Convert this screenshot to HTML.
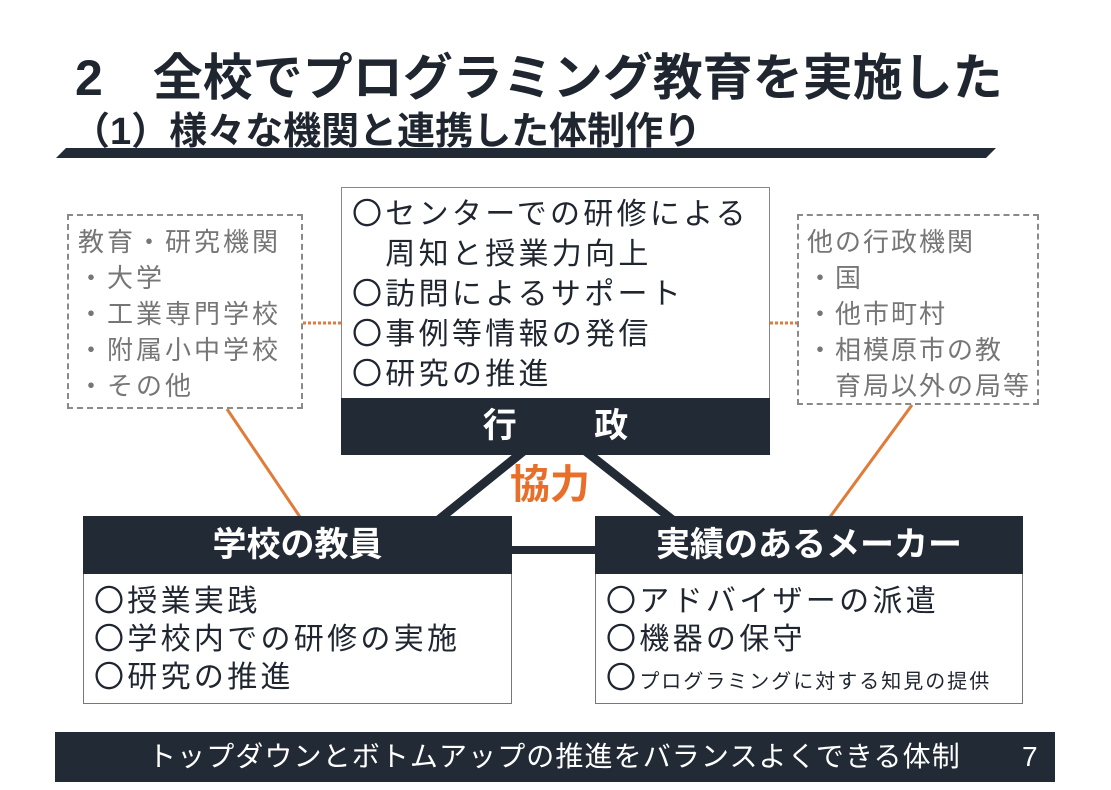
<!DOCTYPE html>
<html><head><meta charset="utf-8"><style>
*{margin:0;padding:0;box-sizing:border-box}
body{width:1111px;height:790px;background:#fff;position:relative;overflow:hidden;font-family:"Liberation Sans","Noto Sans CJK JP",sans-serif;color:#1f2630}
.a{position:absolute;white-space:nowrap}
.dk{background:#222a35}
.t{font-weight:bold;color:#1f2630}
.lines div{height:40px;line-height:40px}
.g{color:#767676;font-size:26px;letter-spacing:3px}
.g div{height:36px;line-height:36px}
</style></head><body>
<div class="a t" style="left:75px;top:48px;font-size:50px;line-height:60px">2　全校でプログラミング教育を実施した</div>
<div class="a t" style="left:72px;top:110px;font-size:38px;line-height:44px">（1）様々な機関と連携した体制作り</div>
<svg class="a" style="left:0;top:0" width="1111" height="790">
<polygon points="66,148 996,148 986,158 56,158" fill="#222a35"/>
<line x1="303" y1="323" x2="341" y2="323" stroke="#e07b39" stroke-width="3" stroke-dasharray="3,2"/>
<line x1="770" y1="323" x2="797" y2="323" stroke="#e07b39" stroke-width="3" stroke-dasharray="3,2"/>
<line x1="227" y1="409" x2="300" y2="517" stroke="#e07b39" stroke-width="3"/>
<line x1="912" y1="405" x2="830" y2="517" stroke="#e07b39" stroke-width="3"/>
<polygon points="513,454 527,454 449,517 435,517" fill="#222a35"/>
<polygon points="582,454 596,454 676,517 662,517" fill="#222a35"/>
<rect x="510" y="546" width="88" height="8" fill="#222a35"/>
</svg>
<div class="a" style="left:67px;top:214px;width:236px;height:195px;border:2px dashed #8a8a8a"></div>
<div class="a g" style="left:78px;top:224px">
<div>教育・研究機関</div><div> ・大学</div><div> ・工業専門学校</div><div> ・附属小中学校</div><div> ・その他</div></div>
<div class="a" style="left:797px;top:214px;width:242px;height:191px;border:2px dashed #8a8a8a"></div>
<div class="a g" style="left:807px;top:224px;letter-spacing:2px">
<div>他の行政機関</div><div> ・国</div><div> ・他市町村</div><div> ・相模原市の教</div><div>　育局以外の局等</div></div>
<div class="a" style="left:341px;top:187px;width:429px;height:212px;border:1.5px solid #888;background:#fff"></div>
<div class="a lines" style="left:352px;top:195px;font-size:30px;letter-spacing:3.3px">
<div>〇センターでの研修による</div><div>　周知と授業力向上</div><div>〇訪問によるサポート</div><div>〇事例等情報の発信</div><div>〇研究の推進</div></div>
<div class="a dk" style="left:341px;top:398px;width:429px;height:57px"></div>
<div class="a" style="left:341px;top:398px;width:429px;height:57px;line-height:57px;text-align:center;color:#fff;font-weight:bold;font-size:34px">行　　 政</div>
<div class="a" style="left:510px;top:460px;font-size:40px;line-height:50px;font-weight:bold;color:#e86f2a">協力</div>
<div class="a dk" style="left:83px;top:516px;width:429px;height:58px;color:#fff;font-weight:bold;font-size:34px;line-height:58px;text-align:center">学校の教員</div>
<div class="a" style="left:83px;top:574px;width:429px;height:130px;border:1.5px solid #777;border-top:none"></div>
<div class="a lines" style="left:94px;top:583px;font-size:30px;letter-spacing:3.3px">
<div style="height:38px;line-height:38px">〇授業実践</div><div style="height:38px;line-height:38px">〇学校内での研修の実施</div><div style="height:38px;line-height:38px">〇研究の推進</div></div>
<div class="a dk" style="left:595px;top:516px;width:428px;height:58px;color:#fff;font-weight:bold;font-size:34px;line-height:58px;text-align:center">実績のあるメーカー</div>
<div class="a" style="left:595px;top:574px;width:428px;height:130px;border:1.5px solid #777;border-top:none"></div>
<div class="a" style="left:606px;top:583px;font-size:30px;letter-spacing:3.3px">
<div style="height:38px;line-height:38px">〇アドバイザーの派遣</div><div style="height:38px;line-height:38px">〇機器の保守</div><div style="height:40px;line-height:40px">〇<span style="font-size:20px;letter-spacing:2px">プログラミングに対する知見の提供</span></div></div>
<div class="a dk" style="left:55px;top:732px;width:1000px;height:50px"></div>
<div class="a" style="left:148px;top:732px;height:50px;line-height:50px;color:#fff;font-size:28px;letter-spacing:1.1px">トップダウンとボトムアップの推進をバランスよくできる体制</div>
<div class="a" style="left:1022px;top:732px;height:50px;line-height:50px;color:#fff;font-size:28px">7</div>
</body></html>
